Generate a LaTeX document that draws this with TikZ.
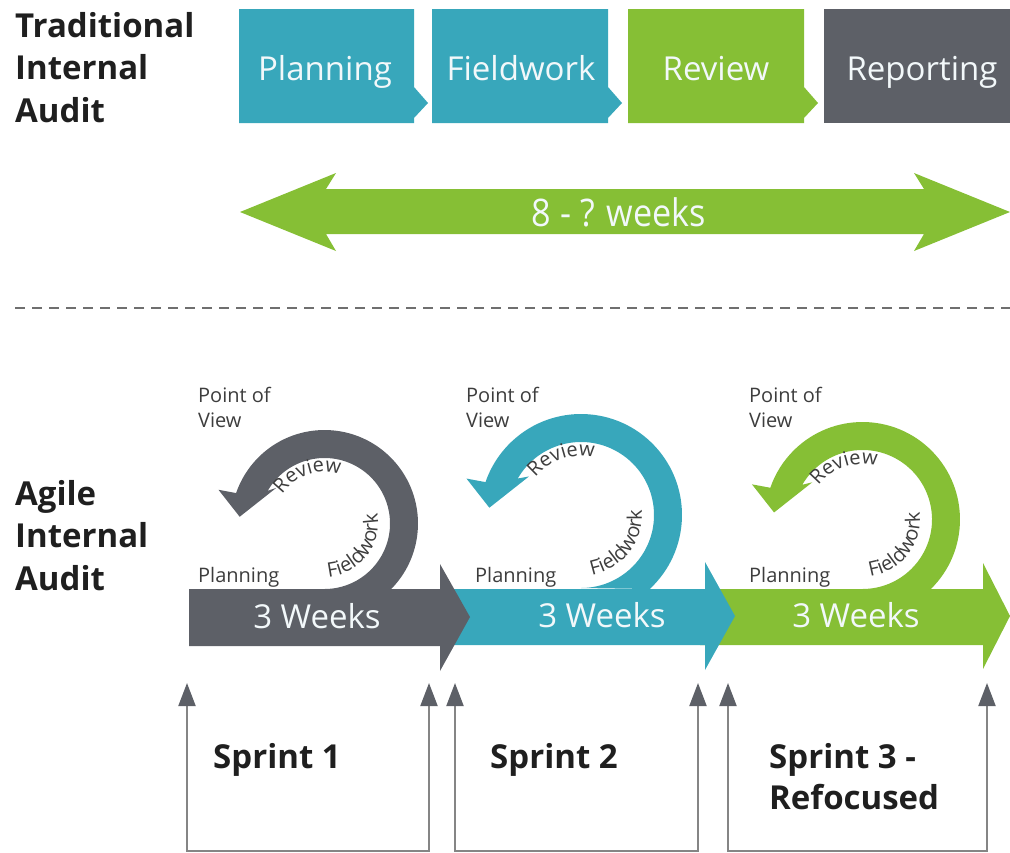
\documentclass[tikz,border=0pt]{standalone}
\usepackage{fontspec}
\setmainfont{Open Sans}
\newfontfamily\curlfamily[LetterSpace=8]{Open Sans}
\usepackage{graphicx}
\usetikzlibrary{arrows.meta,decorations.text}
\definecolor{dteal}{HTML}{38A7BB}
\definecolor{dgreen}{HTML}{86BF35}
\definecolor{dgray}{HTML}{5D6067}
\definecolor{titlecol}{HTML}{1F1F1F}
\definecolor{lblcol}{HTML}{3D3D3D}
\definecolor{brcol}{HTML}{858585}
\definecolor{dashcol}{HTML}{6F6F6F}
\definecolor{wtext}{HTML}{F2F8FA}
\newcommand\curlfont{\curlfamily\fontsize{20}{24}\selectfont}
\newcommand\agilecurl[4]{%
  \pgfmathsetmacro\curlR{#3}%
  \pgfmathsetmacro\curlr{#3-28}%
  \pgfmathsetmacro\curlst{asin((589-#2)/#3)}%
  \pgfmathsetmacro\curlhs{#3/97}%
  \fill[#4] ({#1+\curlR*cos(\curlst)},{#2+\curlR*sin(\curlst)})
     arc[start angle=\curlst, end angle=-161, radius=\curlR]
     -- ({#1-110*\curlhs},{#2-35*\curlhs})
     -- ({#1-88*\curlhs},{#2-7*\curlhs})
     -- ({#1-50*\curlhs},{#2-37*\curlhs})
     -- ({#1+\curlr*cos(150)},{#2-\curlr*sin(150)})
     arc[start angle=-150, end angle=90, radius=\curlr]
     -- cycle;
  \pgfmathsetmacro\curlrb{\curlr-14}%
  \pgfmathsetmacro\curlrf{\curlr-12}%
  \path[decorate, decoration={text along path, text={|\curlfont|Review}, text align=center, text color=lblcol}]
     ({#1+\curlrb*cos(152)},{#2-\curlrb*sin(152)}) arc[start angle=-152, end angle=-66, radius=\curlrb];
  \path[decorate, decoration={text along path, text={|\curlfont|Fieldwork}, text align=center, text color=lblcol}]
     ({#1+\curlrf*cos(-102)},{#2-\curlrf*sin(-102)}) arc[start angle=102, end angle=-27, radius=\curlrf];
}
\tikzset{
  titlelbl/.style={anchor=north west, align=left, inner sep=0pt, text=titlecol, font=\bfseries\fontsize{33}{42.5}\selectfont},
  phaselbl/.style={anchor=base, inner sep=0pt, text=wtext, font=\fontsize{33}{40}\selectfont},
  weekslbl/.style={anchor=base, inner sep=0pt, text=wtext, font=\fontsize{38}{44}\selectfont},
  smalllbl/.style={anchor=north west, align=left, inner sep=0pt, text=lblcol, font=\fontsize{20}{25}\selectfont},
  sprintlbl/.style={anchor=north west, align=left, inner sep=0pt, text=titlecol, font=\bfseries\fontsize{33}{41}\selectfont},
  bracket/.style={draw=brcol, line width=2pt, arrows={Triangle[width=17pt,length=23pt,color=dgray]-Triangle[width=17pt,length=23pt,color=dgray]}},
  dashline/.style={draw=dashcol, line width=2.5pt, dash pattern=on 10pt off 7pt}
}
\begin{document}
\begin{tikzpicture}[x=1pt,y=-1pt]
\useasboundingbox (0,0) rectangle (1010,852);
% ---------- traditional ----------
\fill[dteal] (239,9) -- (414,9) -- (414,87) -- (428,103) -- (414,118) -- (414,123) -- (239,123) -- cycle;
\fill[dteal] (432,9) -- (608,9) -- (608,87) -- (622,103) -- (608,118) -- (608,123) -- (432,123) -- cycle;
\fill[dgreen] (628,9) -- (804,9) -- (804,87) -- (818,103) -- (804,118) -- (804,123) -- (628,123) -- cycle;
\fill[dgray] (824,9) rectangle (1010,123);
\node[phaselbl] (tplan) at (325,80) {Planning};
\node[phaselbl] (tfield) at (521,80) {Fieldwork};
\node[phaselbl] (trev) at (716,80) {Review};
\node[phaselbl] (trep) at (922,80) {Reporting};
\node[titlelbl] (trad) at (15,12) {Traditional\\Internal\\Audit};
% double arrow
\fill[dgreen] (240,212) -- (336,173) -- (326,189) -- (924,189) -- (914,173) -- (1010,212)
  -- (914,251) -- (924,234) -- (326,234) -- (336,251) -- cycle;
\node[weekslbl] (weeks) at (619,226) {\scalebox{0.9}[1]{8 - ? weeks}};
% divider
\draw[dashline] (15,308) -- (1010,308);
% ---------- agile ----------
\node[titlelbl] (agile) at (15,480) {Agile\\Internal\\Audit};
% sprint 3 (green)
\fill[dgreen] (700,589) -- (983,589) -- (983,563) -- (1010,616) -- (983,669) -- (983,645) -- (700,645) -- cycle;
\agilecurl{862.5}{519.5}{97.5}{dgreen}
% sprint 2 (teal)
\fill[dteal] (430,589) -- (705,589) -- (705,562) -- (735,616) -- (705,670) -- (705,645) -- (430,645) -- cycle;
\agilecurl{581}{515}{101}{dteal}
% sprint 1 (gray)
\fill[dgray] (189,589) -- (440,589) -- (440,564) -- (470,617) -- (440,671) -- (440,646) -- (189,646) -- cycle;
\agilecurl{324.5}{523.5}{93.5}{dgray}
% week labels
\node[phaselbl] (w1) at (317,628) {3 Weeks};
\node[phaselbl] (w2) at (602,627) {3 Weeks};
\node[phaselbl] (w3) at (856,627) {3 Weeks};
% small labels
\node[smalllbl] (pov1) at (198,387) {Point of\\View};
\node[smalllbl] (pov2) at (466,387) {Point of\\View};
\node[smalllbl] (pov3) at (749,387) {Point of\\View};
\node[smalllbl, anchor=base west] (pl1) at (198,582) {Planning};
\node[smalllbl, anchor=base west] (pl2) at (475,582) {Planning};
\node[smalllbl, anchor=base west] (pl3) at (749,582) {Planning};
% brackets
\coordinate (b1l) at (187,683); \coordinate (b1lb) at (187,851);
\coordinate (b1r) at (429,683); \coordinate (b1rb) at (429,851);
\coordinate (b2l) at (455,683); \coordinate (b2lb) at (455,851);
\coordinate (b2r) at (698,683); \coordinate (b2rb) at (698,851);
\coordinate (b3l) at (728,683); \coordinate (b3lb) at (728,851);
\coordinate (b3r) at (987,683); \coordinate (b3rb) at (987,851);
\draw[bracket] (b1l) -- (b1lb) -- (b1rb) -- (b1r);
\draw[bracket] (b2l) -- (b2lb) -- (b2rb) -- (b2r);
\draw[bracket] (b3l) -- (b3lb) -- (b3rb) -- (b3r);
\node[sprintlbl] (s1) at (213,743) {Sprint 1};
\node[sprintlbl] (s2) at (490,743) {Sprint 2};
\node[sprintlbl] (s3) at (769,743) {Sprint 3 -\\Refocused};
\end{tikzpicture}
\end{document}
